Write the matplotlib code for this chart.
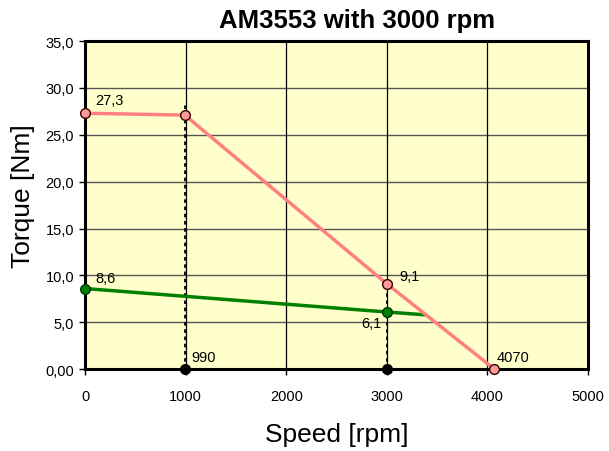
import numpy as np
import matplotlib.pyplot as plt
from matplotlib.ticker import FuncFormatter

plt.rcParams['font.family'] = ['Liberation Sans', 'DejaVu Sans']

#%% Data
# peak torque curve (red)
peak_speed  = [0, 990, 3000, 4070]
peak_torque = [27.3, 27.1, 9.1, 0.0]

# continuous torque curve (green)
cont_speed  = [0, 3000, 3375]
cont_torque = [8.6, 6.1, 5.8]

# dashed helper lines
rated_speed = [990, 3000]

x_ticks = [0, 1000, 2000, 3000, 4000, 5000]
y_ticks = [0, 5, 10, 15, 20, 25, 30, 35]

#%% Plot
fig = plt.figure(figsize=(6.09, 4.52), dpi=100)
ax = fig.add_axes([0.14, 0.181, 0.8255, 0.726])
ax.set_facecolor('#FFFFCC')

ax.set_xlim(0, 5000)
ax.set_ylim(0, 35)
ax.set_xticks(x_ticks)
ax.set_yticks(y_ticks)

# grid
for yv in y_ticks[1:-1]:
    ax.axhline(yv, color='#555555', lw=1.0, zorder=1)
for xv in x_ticks[1:-1]:
    ax.axvline(xv, color='black', lw=0.9, zorder=1)

# dashed helper lines
ax.plot([rated_speed[0], rated_speed[0]], [0, 28.2], color='black', ls=(0, (2, 2)), lw=1.3, zorder=2)
ax.plot([rated_speed[1], rated_speed[1]], [0, peak_torque[2]], color='black', ls=(0, (2, 2)), lw=1.3, zorder=2)
ax.plot(rated_speed, [0, 0], color='black', ls=(0, (2, 2)), lw=1.3, zorder=2)

# curves
ax.plot(cont_speed, cont_torque, color='#008000', lw=2.5, zorder=3)
ax.plot(cont_speed[:2], cont_torque[:2], ls='none', marker='o', ms=7,
        mfc='#008000', mec='#003300', mew=1.0, zorder=5, clip_on=False)
ax.plot(peak_speed, peak_torque, color='#FF8080', lw=2.5, zorder=4)
ax.plot(peak_speed, peak_torque, ls='none', marker='o', ms=7,
        mfc='#FF9999', mec='#330000', mew=1.0, zorder=5, clip_on=False)
ax.plot(rated_speed, [0, 0], ls='none', marker='o', ms=7,
        mfc='black', mec='black', zorder=5, clip_on=False)

# value labels
fs = 10.5
ax.text(100, 28.3, '27,3', fontsize=fs)
ax.text(100, 9.3, '8,6', fontsize=fs)
ax.text(3120, 9.5, '9,1', fontsize=fs)
ax.text(2950, 4.5, '6,1', fontsize=fs, ha='right')
ax.text(1060, 0.9, '990', fontsize=fs)
ax.text(4090, 0.9, '4070', fontsize=fs)

# axes styling
for sp in ax.spines.values():
    sp.set_linewidth(2.2)
    sp.set_color('black')
ax.tick_params(direction='out', length=4, width=1, labelsize=10.5)
ax.tick_params(axis='x', pad=10)
ax.tick_params(axis='y', pad=4)
ax.yaxis.set_major_formatter(FuncFormatter(
    lambda v, p: '0,00' if v == 0 else f'{v:.1f}'.replace('.', ',')))

ax.set_title('AM3553 with 3000 rpm', fontsize=18.5, fontweight='bold', x=0.54, pad=10)
ax.set_xlabel('Speed [rpm]', fontsize=19, labelpad=14)
ax.set_ylabel('Torque [Nm]', fontsize=19)
ax.yaxis.set_label_coords(-0.1, 0.53)

fig.savefig('out.png', dpi=100)
